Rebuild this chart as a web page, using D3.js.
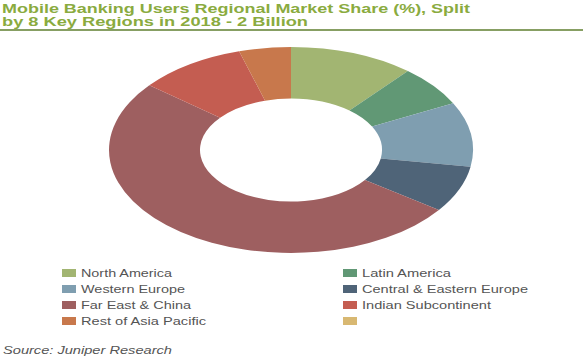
<!DOCTYPE html>
<html><head><meta charset="utf-8">
<script src="https://cdn.jsdelivr.net/npm/d3@7"></script>
<style>html,body{margin:0;padding:0;background:#fff;}svg{display:block;}</style>
</head><body>
<svg id="c" width="588" height="360"></svg>
<script>
const categories = ["North America","Latin America","Western Europe","Central & Eastern Europe","Far East & China","Indian Subcontinent","Rest of Asia Pacific",""];
const shares = [11.1, 6.4, 10.1, 7.3, 50.9, 9.6, 4.6, 0];
const colors = ["#a2b572","#619875","#7f9eb0","#4f6478","#9e5f60","#c45d51","#c8784c","#d8b872"];
const titleLines = ["Mobile Banking Users Regional Market Share (%), Split","by 8 Key Regions in 2018 - 2 Billion"];
const sourceText = "Source: Juniper Research";

const svg = d3.select("#c");
const W = 588, H = 360;
const FONT = "Liberation Sans, Arial, sans-serif";
svg.append("rect").attr("width",W).attr("height",H).attr("fill","#fff");

// title
const tl = [468, 306];
titleLines.forEach((t,i)=>{
  svg.append("text").attr("x",2).attr("y",12.5+i*13.5)
    .attr("font-family",FONT).attr("font-weight","bold")
    .attr("font-size",12.5).attr("fill","#8aab3f")
    .attr("textLength",tl[i]).attr("lengthAdjust","spacingAndGlyphs").text(t);
});
svg.append("line").attr("x1",0).attr("x2",583).attr("y1",30).attr("y2",30)
  .attr("stroke","#5f7f2f").attr("stroke-width",1.5);

// donut
const rx = 182, ry = 103, cx = 291, cy = 150;
const pie = d3.pie().sort(null).value(d=>d);
const arc = d3.arc().innerRadius(rx*0.5).outerRadius(rx);
const g = svg.append("g").attr("transform",`translate(${cx},${cy}) scale(1,${ry/rx})`);
g.selectAll("path").data(pie(shares)).join("path")
  .attr("d",arc).attr("fill",(d,i)=>colors[i]).attr("stroke","none");

// legend
const legLen = [91, 89, 104, 166, 110, 129, 125, 0];
const leg = svg.append("g");
categories.forEach((c,i)=>{
  const col = i%2, row = Math.floor(i/2);
  const sx = col===0 ? 62 : 343;
  const y = 273 + row*16;
  leg.append("rect").attr("x",sx).attr("y",y-4).attr("width",14).attr("height",8).attr("fill",colors[i]);
  if (c) leg.append("text").attr("x",sx+19).attr("y",y+4)
    .attr("font-family",FONT).attr("font-size",11)
    .attr("fill","#555").attr("textLength",legLen[i]).attr("lengthAdjust","spacingAndGlyphs").text(c);
});

svg.append("text").attr("x",3).attr("y",354)
  .attr("font-family",FONT).attr("font-style","italic")
  .attr("font-size",11).attr("fill","#555")
  .attr("textLength",169).attr("lengthAdjust","spacingAndGlyphs").text(sourceText);
</script>
</body></html>
